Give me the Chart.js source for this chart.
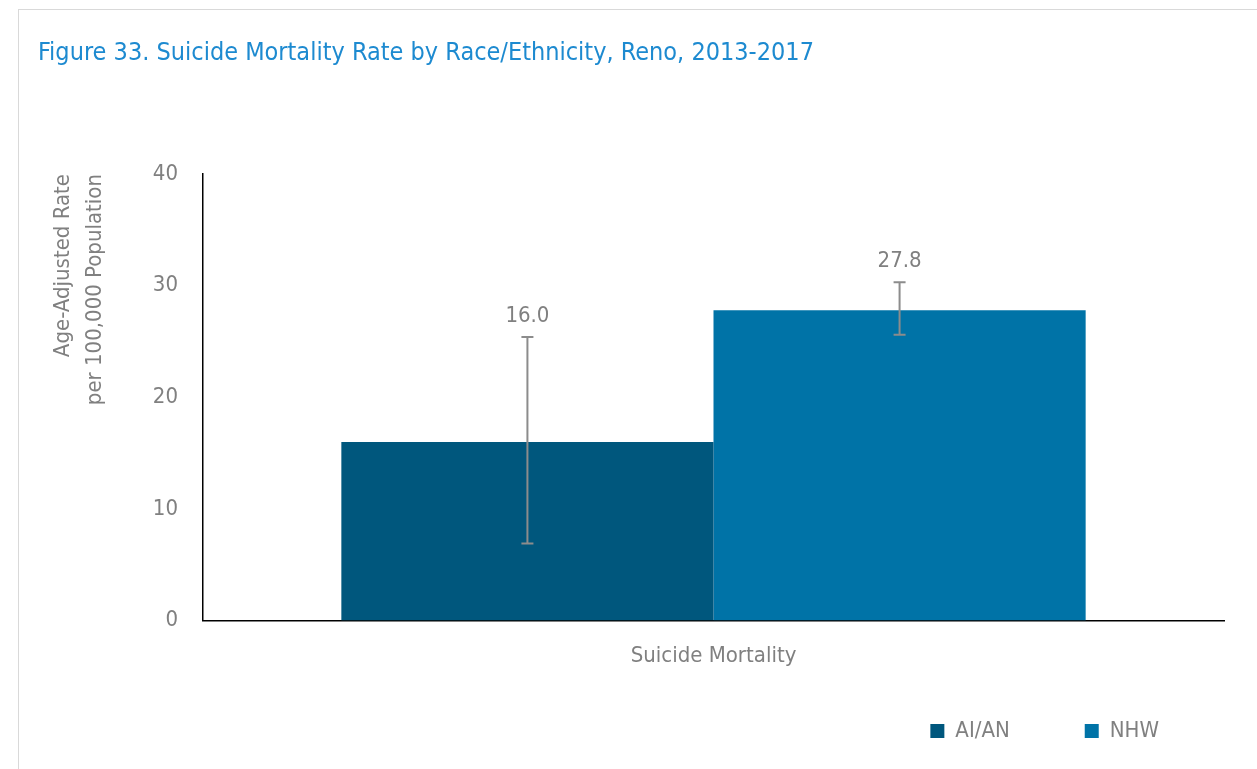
<!DOCTYPE html>
<html>
<head>
<meta charset="utf-8">
<script src="https://cdn.jsdelivr.net/npm/chart.js@4"></script>
<style>
  body { margin: 0; background: #fff; }
  #frame { position: absolute; left: 18px; top: 9px; width: 1250px; height: 770px; border: 1px solid #d9d9d9; }
  #wrap { position: absolute; left: 0; top: 0; width: 1257px; height: 769px; }
</style>
</head>
<body>
<div id="frame"></div>
<div id="wrap"><canvas id="suicideChart"></canvas></div>
<script>
const categories = ["Suicide Mortality"];
const groups = ["AI/AN", "NHW"];
const rates = [16.0, 27.8];
const lowerCI = [6.9, 25.6];
const upperCI = [25.4, 30.3];
const yTicks = [0, 10, 20, 30, 40];

const FONT = '"Liberation Sans Narrow", "Arial Narrow", "DejaVu Sans Condensed", sans-serif';
const GREY = "#808080";
const colors = ["#00577d", "#0073a7"];

// error bars + value labels drawn through the scales
const errorBars = {
  id: "errorBars",
  afterLayout(chart) {
    // nudge legend so its items line up with the reference
    chart.legend.right += 10;
    chart.legend.top -= 38;
  },
  afterDatasetsDraw(chart) {
    const { ctx, scales: { y } } = chart;
    ctx.save();
    chart.data.datasets.forEach((ds, i) => {
      const bar = chart.getDatasetMeta(i).data[0];
      const x = bar.x;
      const top = y.getPixelForValue(upperCI[i]);
      const bot = y.getPixelForValue(lowerCI[i]);
      ctx.strokeStyle = "#8c8c8c";
      ctx.lineWidth = 2;
      ctx.beginPath();
      ctx.moveTo(x, top); ctx.lineTo(x, bot);
      ctx.moveTo(x - 6, top); ctx.lineTo(x + 6, top);
      ctx.moveTo(x - 6, bot); ctx.lineTo(x + 6, bot);
      ctx.stroke();
      ctx.fillStyle = GREY;
      ctx.font = "22px " + FONT;
      ctx.textAlign = "center";
      ctx.textBaseline = "bottom";
      ctx.fillText(rates[i].toFixed(1), x, top - 10);
    });
    ctx.restore();
  }
};

const ctx = document.getElementById("suicideChart").getContext("2d");

const chart = new Chart(ctx, {
  type: "bar",
  data: {
    labels: categories,
    datasets: groups.map((g, i) => ({
      label: g,
      data: [rates[i]],
      backgroundColor: colors[i],
      borderWidth: 0,
      categoryPercentage: 0.729,
      barPercentage: 1
    }))
  },
  options: {
    responsive: true,
    maintainAspectRatio: false,
    animation: false,
    layout: { padding: { left: 38, right: 33, top: 30, bottom: 14 } },
    plugins: {
      title: {
        display: true,
        text: "Figure 33. Suicide Mortality Rate by Race/Ethnicity, Reno, 2013-2017",
        align: "start",
        color: "#1d8ad0",
        font: { family: FONT, size: 25, weight: "normal" },
        padding: { top: 8, bottom: 106 }
      },
      legend: {
        position: "bottom",
        align: "end",
        maxHeight: 72,
        labels: {
          color: GREY,
          font: { family: FONT, size: 22 },
          boxWidth: 14,
          boxHeight: 14,
          padding: 75
        }
      },
      tooltip: { enabled: false }
    },
    scales: {
      x: {
        grid: { display: false },
        border: { color: "#000", width: 1.5 },
        ticks: { color: GREY, font: { family: FONT, size: 22 }, padding: 14 }
      },
      y: {
        min: 0,
        max: 40,
        afterBuildTicks: (s) => { s.ticks = yTicks.map(v => ({ value: v })); },
        afterFit: (s) => { s.width = 165; },
        grid: { display: false },
        border: { color: "#000", width: 1.5 },
        ticks: { color: GREY, font: { family: FONT, size: 22 }, padding: 17 },
        title: {
          display: true,
          align: "end",
          text: ["Age-Adjusted Rate", "per 100,000 Population"],
          color: GREY,
          font: { family: FONT, size: 22, lineHeight: 1.45 },
          padding: { top: 9, bottom: 0 }
        }
      }
    }
  },
  plugins: [errorBars]
});
</script>
</body>
</html>
